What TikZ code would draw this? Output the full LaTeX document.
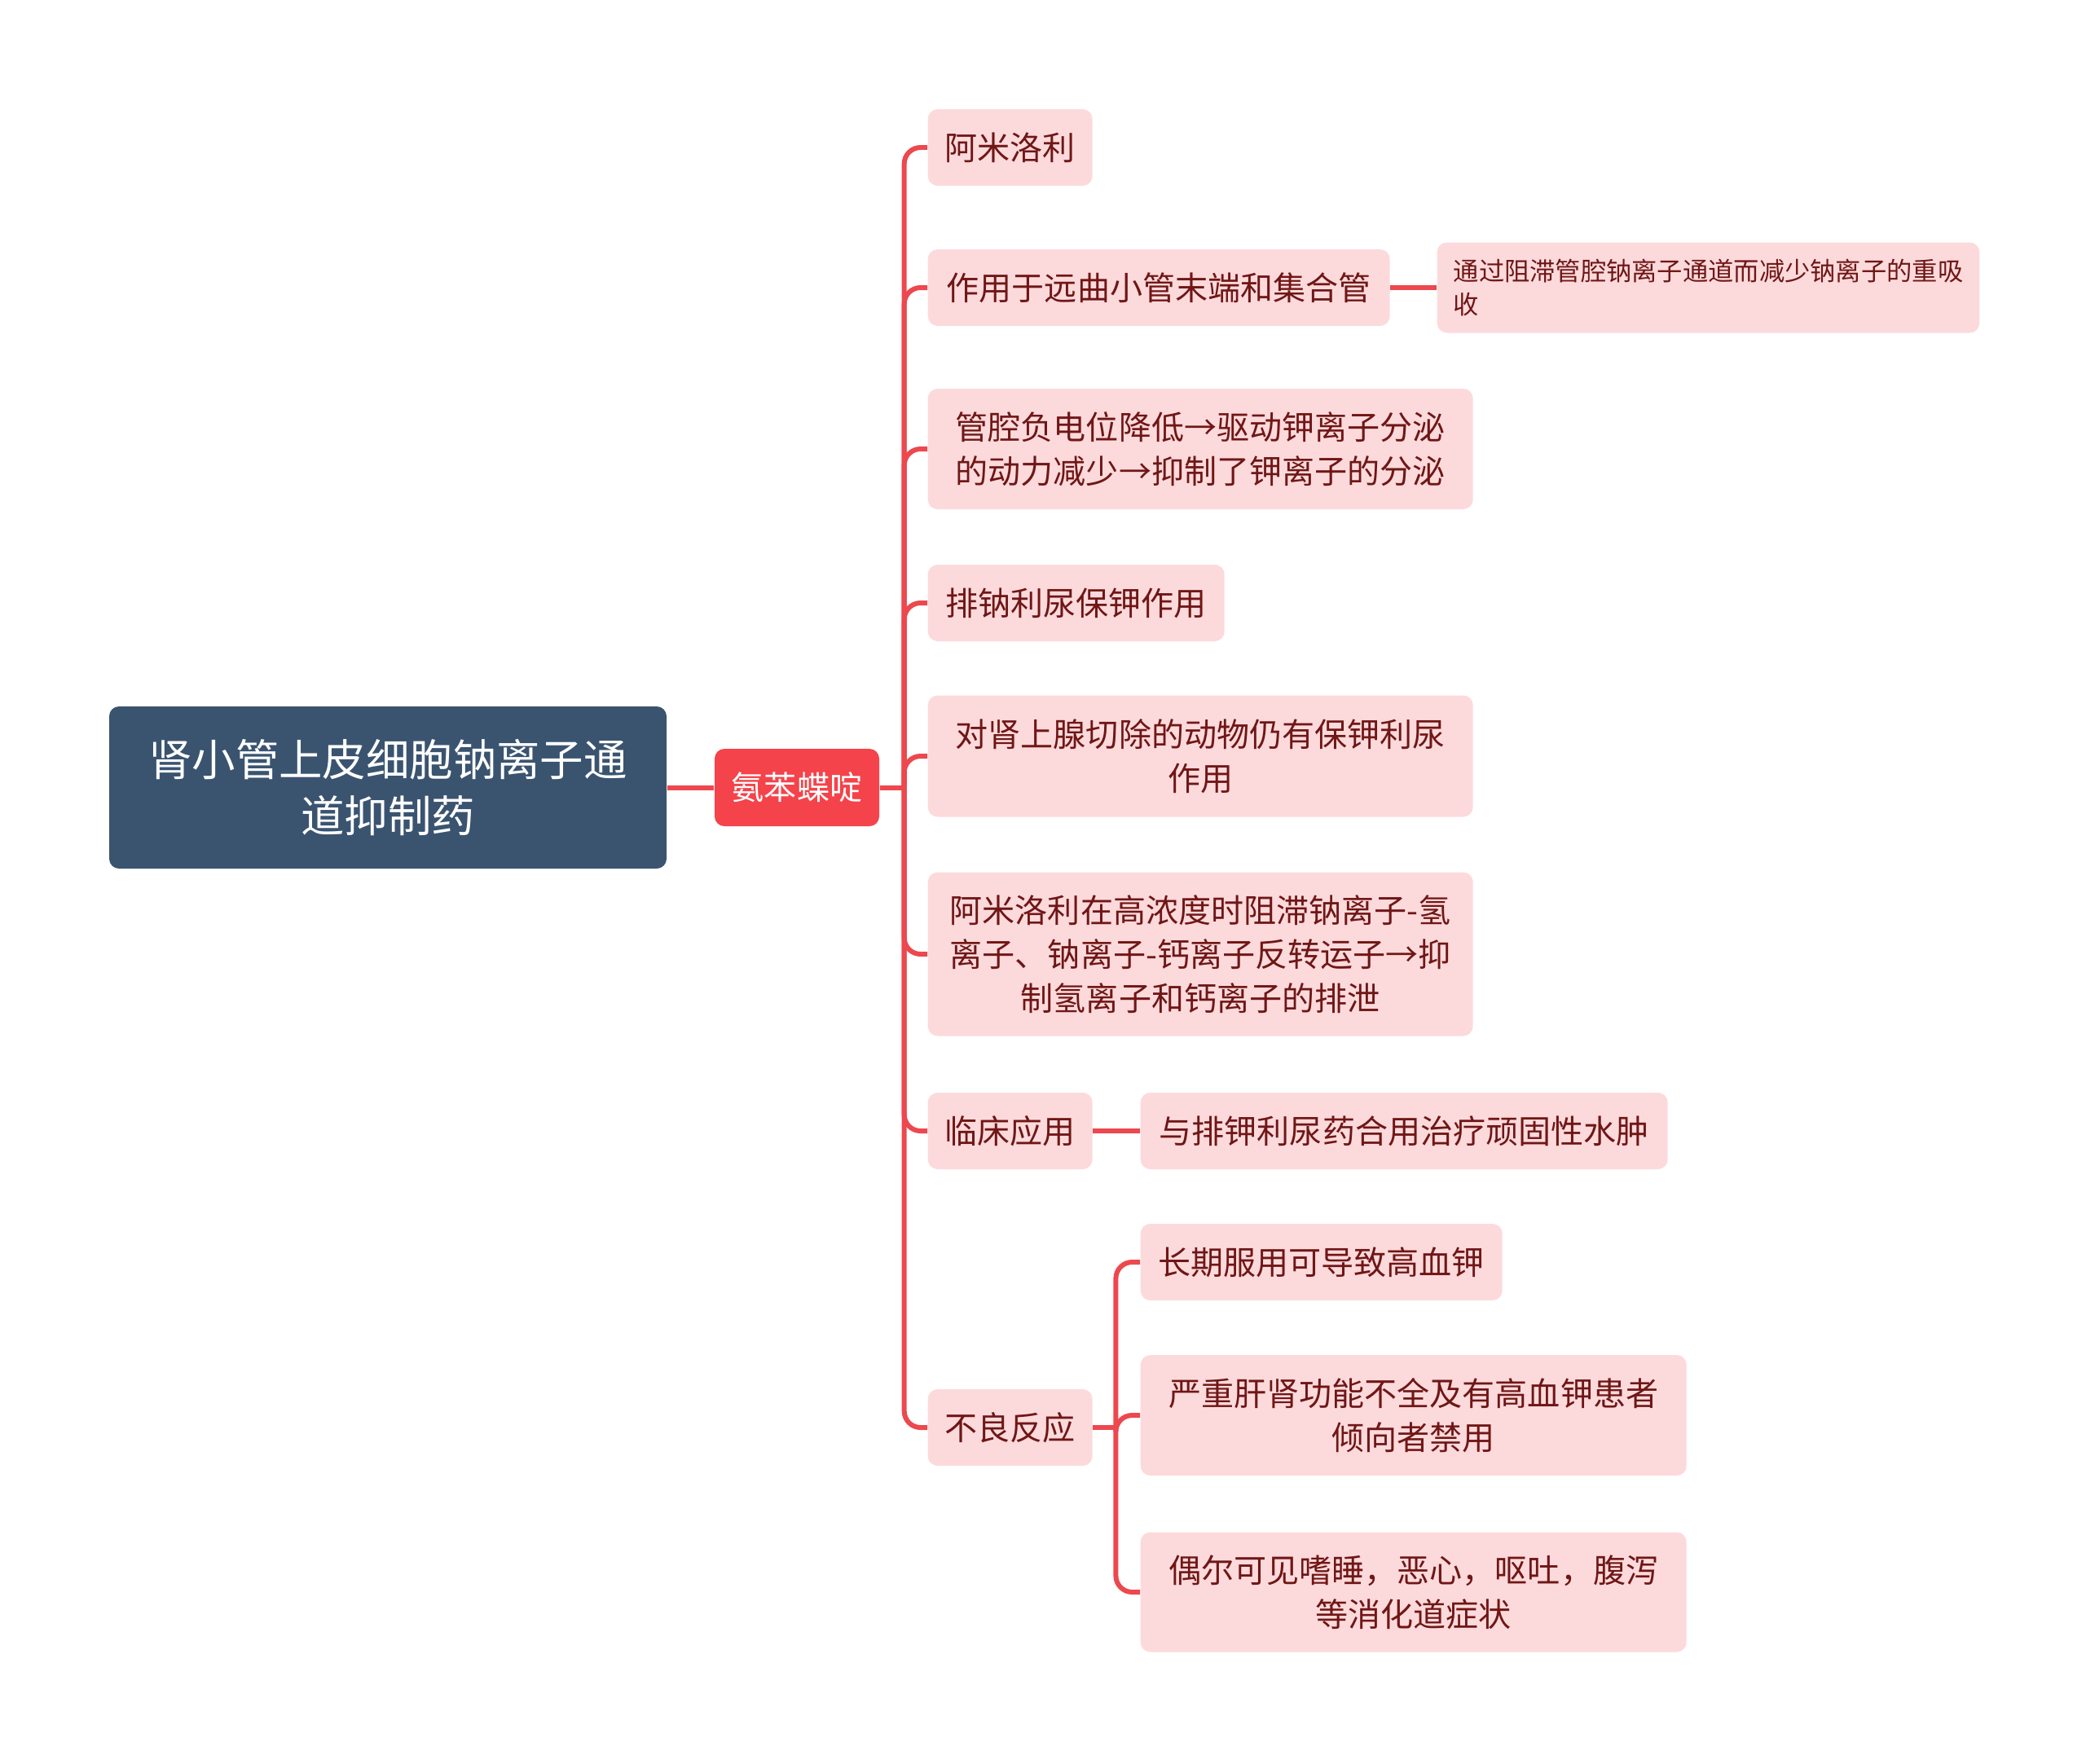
\documentclass[tikz,border=0pt]{standalone}
\usepackage{fontspec}
\setmainfont{Noto Sans CJK SC}
\usepackage{tikz}
\usetikzlibrary{positioning}
\usepackage{xcolor}
\definecolor{mmslate}{RGB}{58,84,112}
\definecolor{mmred}{RGB}{244,67,74}
\definecolor{mmline}{RGB}{236,72,78}
\definecolor{mmpink}{RGB}{252,218,220}
\definecolor{mmtext}{RGB}{112,22,22}
\tikzstyle{branch} = [line width=1.7pt, color=mmline, rounded corners=0.2cm]
\tikzstyle{rootbox} = [rectangle, rounded corners=0.12cm, fill=mmslate, text=white, align=center, minimum width=6.84cm, minimum height=1.99cm, font=\fontsize{15.2pt}{19.5pt}\selectfont]
\tikzstyle{drugbox} = [rectangle, rounded corners=0.12cm, fill=mmred, text=white, minimum width=2.02cm, minimum height=0.95cm, font=\fontsize{11.4pt}{15.3pt}\selectfont]
\tikzstyle{leaf} = [rectangle, rounded corners=0.12cm, fill=mmpink, text=mmtext, align=center, anchor=west, minimum height=0.94cm, inner xsep=0.2cm, font=\fontsize{11.4pt}{15.3pt}\selectfont]
\tikzstyle{smallleaf} = [leaf, align=left, font=\fontsize{8.9pt}{11.6pt}\selectfont]

\begin{document}
\begin{tikzpicture}
\useasboundingbox (0,0) rectangle (25.6,-21.64);
% root and drug
\node (root) [rootbox] at (4.76,-9.665) {肾小管上皮细胞钠离子通\\道抑制药};
\node (drug) [drugbox] at (9.78,-9.665) {氨苯蝶啶};
\draw[branch] (root) -- (drug);

% first level
\node (amiloride) [leaf, minimum width=2.02cm] at (11.38,-1.81) {阿米洛利};
\node (distal) [leaf, minimum width=5.67cm] at (11.38,-3.53) {作用于远曲小管末端和集合管};
\node (potential) [leaf, minimum width=6.69cm, minimum height=1.48cm] at (11.38,-5.51) {管腔负电位降低→驱动钾离子分泌\\的动力减少→抑制了钾离子的分泌};
\node (natriuresis) [leaf, minimum width=3.64cm] at (11.38,-7.40) {排钠利尿保钾作用};
\node (adrenal) [leaf, minimum width=6.69cm, minimum height=1.49cm] at (11.38,-9.28) {对肾上腺切除的动物仍有保钾利尿\\作用};
\node (exchanger) [leaf, minimum width=6.69cm, minimum height=2.01cm] at (11.38,-11.71) {阿米洛利在高浓度时阻滞钠离子-氢\\离子、钠离子-钙离子反转运子→抑\\制氢离子和钙离子的排泄};
\node (clinic) [leaf, minimum width=2.02cm] at (11.38,-13.88) {临床应用};
\node (adverse) [leaf, minimum width=2.02cm] at (11.38,-17.52) {不良反应};

% second level
\node (blockade) [smallleaf, minimum width=6.62cm, minimum height=1.11cm] at (17.63,-3.53) {通过阻滞管腔钠离子通道而减少钠离子的重吸\\收};
\node (edema) [leaf, minimum width=6.47cm] at (13.99,-13.88) {与排钾利尿药合用治疗顽固性水肿};
\node (hyperk) [leaf, minimum width=4.44cm] at (13.99,-15.49) {长期服用可导致高血钾};
\node (contra) [leaf, minimum width=6.70cm, minimum height=1.48cm] at (13.99,-17.37) {严重肝肾功能不全及有高血钾患者\\倾向者禁用};
\node (digest) [leaf, minimum width=6.70cm, minimum height=1.47cm] at (13.99,-19.54) {偶尔可见嗜睡，恶心，呕吐，腹泻\\等消化道症状};

% connectors
\draw[branch] (drug.east) -- ++(0.3,0) coordinate (hub);
\foreach \n in {amiloride,distal,potential,natriuresis,adrenal,exchanger,clinic,adverse}
  \draw[branch] (hub) |- (\n.west);
\draw[branch] (distal) -- (blockade);
\draw[branch] (clinic) -- (edema);
\draw[branch] (adverse.east) -- ++(0.28,0) coordinate (subhub);
\foreach \n in {hyperk,contra,digest}
  \draw[branch] (subhub) |- (\n.west);
\end{tikzpicture}
\end{document}
